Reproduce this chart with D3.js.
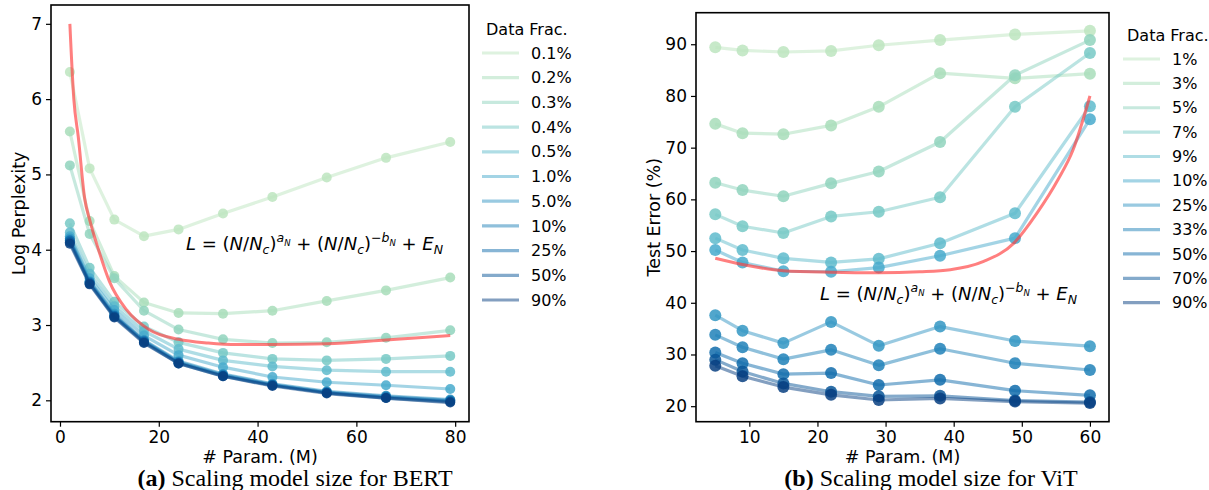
<!DOCTYPE html>
<html>
<head>
<meta charset="utf-8">
<script src="https://cdn.jsdelivr.net/npm/d3@7"></script>
<style>
  body { margin: 0; background: #fff; }
  text { font-family: "DejaVu Sans", sans-serif; fill: #000; }
</style>
</head>
<body>
<svg width="1209" height="490"></svg>
<script>
// ---- data ----
const bertParams = [2, 6, 11, 17, 24, 33, 43, 54, 66, 79];
const bertFracs = ["0.1%", "0.2%", "0.3%", "0.4%", "0.5%", "1.0%", "5.0%", "10%", "25%", "50%", "90%"];
const bertLoss = [
  [6.36, 5.08, 4.40, 4.18, 4.27, 4.48, 4.70, 4.96, 5.22, 5.43],
  [5.57, 4.38, 3.65, 3.30, 3.16, 3.15, 3.19, 3.32, 3.46, 3.63],
  [5.12, 4.21, 3.62, 3.19, 2.94, 2.81, 2.76, 2.77, 2.83, 2.93],
  [4.35, 3.76, 3.31, 2.98, 2.77, 2.63, 2.55, 2.53, 2.55, 2.59],
  [4.23, 3.68, 3.25, 2.92, 2.68, 2.53, 2.45, 2.40, 2.38, 2.38],
  [4.18, 3.62, 3.20, 2.86, 2.60, 2.44, 2.31, 2.24, 2.20, 2.15],
  [4.15, 3.58, 3.15, 2.80, 2.52, 2.35, 2.22, 2.12, 2.06, 2.01],
  [4.13, 3.57, 3.13, 2.79, 2.51, 2.34, 2.21, 2.11, 2.05, 2.00],
  [4.12, 3.56, 3.12, 2.78, 2.50, 2.33, 2.20, 2.10, 2.04, 1.99],
  [4.10, 3.55, 3.11, 2.77, 2.49, 2.32, 2.20, 2.10, 2.03, 1.98],
  [4.08, 3.54, 3.10, 2.76, 2.49, 2.32, 2.19, 2.09, 2.03, 1.97]
];
const bertFitParams = [2, 2.8, 3.7, 5, 6, 7.8, 10, 13.5, 18, 24, 30, 36, 43, 54, 66, 79];
const bertFitLoss = [7.0, 6.0, 5.5, 4.68, 4.40, 4.0, 3.58, 3.20, 2.94, 2.81, 2.76, 2.74, 2.74, 2.75, 2.80, 2.86];

const vitParams = [5, 9, 15, 22, 29, 38, 49, 60];
const vitFracs = ["1%", "3%", "5%", "7%", "9%", "10%", "25%", "33%", "50%", "70%", "90%"];
const vitError = [
  [89.4, 88.8, 88.5, 88.7, 89.8, 90.8, 91.9, 92.6],
  [74.6, 72.8, 72.6, 74.3, 77.9, 84.4, 83.4, 84.3],
  [63.2, 61.8, 60.6, 63.1, 65.4, 71.1, 84.0, 90.8],
  [57.1, 54.8, 53.5, 56.7, 57.6, 60.4, 77.9, 88.3],
  [52.5, 50.2, 48.6, 47.8, 48.5, 51.5, 57.3, 78.0],
  [50.2, 47.8, 46.1, 46.0, 46.8, 49.1, 52.5, 75.5],
  [37.6, 34.6, 32.2, 36.3, 31.7, 35.4, 32.6, 31.6],
  [33.8, 31.4, 29.1, 30.9, 27.9, 31.1, 28.3, 27.0],
  [30.4, 28.3, 26.2, 26.4, 24.1, 25.1, 23.0, 22.1],
  [29.0, 26.7, 24.4, 22.8, 21.9, 22.0, 21.1, 20.8],
  [27.8, 25.8, 23.7, 22.2, 21.2, 21.5, 20.9, 20.6]
];
const vitFitParams = [5, 9, 15, 22, 29, 35, 39.5, 44.4, 48.8, 52.2, 55.3, 57.5, 60];
const vitFitError = [48.6, 47.4, 46.2, 45.9, 45.8, 46.0, 46.4, 48.0, 51.5, 57.3, 63.8, 69.5, 80.0];

const svg = d3.select("svg");

// color for series i of 11 (GnBu, light green -> dark blue)
function seriesColor(i) {
  return d3.interpolateGnBu(0.3 + 0.07 * i);
}

// draws L = (N/Nc)^aN + (N/Nc)^-bN + EN as tspans
function drawFormula(x, y) {
  const parts = [
    ["L", 1, 0], [" = (", 0, 0], ["N", 1, 0], ["/", 0, 0], ["N", 1, 0], ["c", 1, 1], [")", 0, 0], ["a", 1, 2], ["N", 1, 3],
    [" + (", 0, 0], ["N", 1, 0], ["/", 0, 0], ["N", 1, 0], ["c", 1, 1], [")", 0, 0], ["\u2212", 0, 2], ["b", 1, 2], ["N", 1, 3],
    [" + ", 0, 0], ["E", 1, 0], ["N", 1, 1]
  ];
  const shift = [0, 4, -8, -4.5];
  const size = [18, 12.5, 12.5, 8.5];
  const t = svg.append("text").attr("x", x).attr("y", y).style("white-space", "pre");
  let cur = 0;
  parts.forEach(p => {
    t.append("tspan")
      .attr("dy", shift[p[2]] - cur)
      .attr("font-size", size[p[2]])
      .attr("font-style", p[1] ? "italic" : "normal")
      .text(p[0]);
    cur = shift[p[2]];
  });
}

function drawPanel(o) {
  const x = d3.scaleLinear().domain(o.xDomain).range([o.left, o.right]);
  const y = d3.scaleLinear().domain(o.yDomain).range([o.bottom, o.top]);
  const g = svg.append("g");

  const line = d3.line().x(d => x(d[0])).y(d => y(d[1]));

  // series lines + markers
  o.values.forEach((vals, i) => {
    const pts = o.params.map((p, j) => [p, vals[j]]);
    const c = seriesColor(i);
    g.append("path").datum(pts)
      .attr("d", line)
      .attr("fill", "none")
      .attr("stroke", c)
      .attr("stroke-opacity", 0.5)
      .attr("stroke-width", 3.2)
      .attr("stroke-linejoin", "round");
    g.selectAll(null).data(pts).enter().append("circle")
      .attr("cx", d => x(d[0]))
      .attr("cy", d => y(d[1]))
      .attr("r", o.r)
      .attr("fill", c)
      .attr("fill-opacity", 0.85);
  });

  // fitted curve
  const fit = o.fitX.map((p, j) => [p, o.fitY[j]]);
  g.append("path").datum(fit)
    .attr("d", line.curve(d3.curveMonotoneX))
    .attr("fill", "none")
    .attr("stroke", "#ff3b3b")
    .attr("stroke-opacity", 0.65)
    .attr("stroke-width", 3);

  // axes
  const ax = g.append("g").attr("transform", `translate(0,${o.bottom})`)
    .call(d3.axisBottom(x).tickValues(o.xTicks).tickFormat(d3.format("d")).tickSize(5).tickPadding(4));
  const ay = g.append("g").attr("transform", `translate(${o.left},0)`)
    .call(d3.axisLeft(y).tickValues(o.yTicks).tickFormat(d3.format("d")).tickSize(5).tickPadding(4));
  [ax, ay].forEach(a => {
    a.select(".domain").remove();
    a.selectAll("line").attr("stroke", "#000").attr("stroke-width", 1.2);
    a.selectAll("text").attr("font-size", 17).attr("font-family", "DejaVu Sans").attr("fill", "#000");
  });

  g.append("rect")
    .attr("x", o.left).attr("y", o.top)
    .attr("width", o.right - o.left).attr("height", o.bottom - o.top)
    .attr("fill", "none").attr("stroke", "#000").attr("stroke-width", 1.6);

  // labels
  g.append("text")
    .attr("transform", `translate(${o.ylabelX},${(o.top + o.bottom) / 2}) rotate(-90)`)
    .attr("text-anchor", "middle").attr("font-size", 17.5)
    .text(o.ylabel);
  g.append("text")
    .attr("x", (o.left + o.right) / 2).attr("y", 463)
    .attr("text-anchor", "middle").attr("font-size", 17.5)
    .text("# Param. (M)");

  // legend
  const lg = g.append("g");
  lg.append("text").attr("x", o.legX + 4).attr("y", o.legTop - 24).attr("dy", "0.35em")
    .attr("font-size", 16).text("Data Frac.");
  o.fracs.forEach((f, i) => {
    const yy = o.legTop + i * o.legStep;
    lg.append("line")
      .attr("x1", o.legX).attr("x2", o.legX + 37)
      .attr("y1", yy).attr("y2", yy)
      .attr("stroke", seriesColor(i)).attr("stroke-opacity", 0.5).attr("stroke-width", 3.2);
    lg.append("text").attr("x", o.legX + 49).attr("y", yy).attr("dy", "0.35em")
      .attr("font-size", 16).text(f);
  });

  drawFormula(o.fx, o.fy);

  // caption
  const cap = g.append("text")
    .attr("x", o.capX).attr("y", 486)
    .attr("text-anchor", "middle")
    .style("font-family", "'Liberation Serif', 'Times New Roman', serif")
    .attr("font-size", 24);
  cap.append("tspan").attr("font-weight", "bold").text(o.capTag);
  cap.append("tspan").text(" " + o.caption);
}

drawPanel({
  params: bertParams, values: bertLoss, fracs: bertFracs,
  fitX: bertFitParams, fitY: bertFitLoss,
  xDomain: [-1.82, 82.8], yDomain: [1.716, 7.25],
  left: 51, right: 469, top: 5, bottom: 421.7,
  xTicks: [0, 20, 40, 60, 80], yTicks: [2, 3, 4, 5, 6, 7],
  r: 5, ylabel: "Log Perplexity", ylabelX: 25,
  legX: 482, legTop: 53, legStep: 24.7,
  fx: 186, fy: 250,
  capX: 295, capTag: "(a)", caption: "Scaling model size for BERT"
});

drawPanel({
  params: vitParams, values: vitError, fracs: vitFracs,
  fitX: vitFitParams, fitY: vitFitError,
  xDomain: [2.17, 62.8], yDomain: [17.0, 96.1],
  left: 696, right: 1109, top: 12.7, bottom: 421.7,
  xTicks: [10, 20, 30, 40, 50, 60], yTicks: [20, 30, 40, 50, 60, 70, 80, 90],
  r: 6, ylabel: "Test Error (%)", ylabelX: 660,
  legX: 1123, legTop: 59, legStep: 24.37,
  fx: 820, fy: 300,
  capX: 931, capTag: "(b)", caption: "Scaling model size for ViT"
});
</script>
</body>
</html>
